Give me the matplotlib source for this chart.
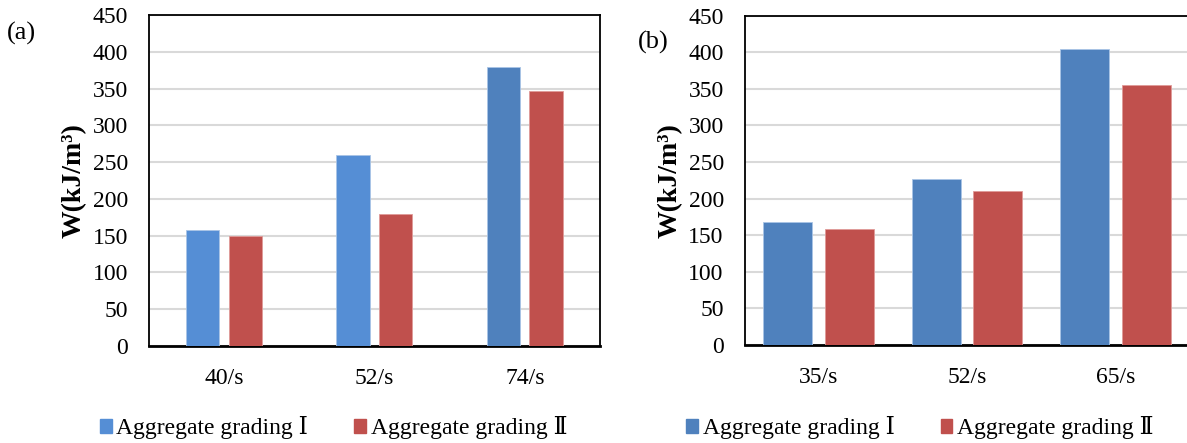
import matplotlib
matplotlib.use("Agg")
import matplotlib.pyplot as plt
from matplotlib.patches import Patch

plt.rcParams['font.family'] = ['Liberation Serif', 'DejaVu Serif', 'Noto Sans CJK SC']

# panel (a)
cats_a = ["40/s", "52/s", "74/s"]
grade1_a = [158, 260, 379]
grade2_a = [149, 180, 347]
# panel (b)
cats_b = ["35/s", "52/s", "65/s"]
grade1_b = [168, 227, 404]
grade2_b = [159, 210, 356]

labels = ["Aggregate grading \u2160", "Aggregate grading \u2161"]
yticks = [0, 50, 100, 150, 200, 250, 300, 350, 400, 450]

LBLUE = "#558ED5"
BLUE = "#4F81BD"
RED = "#C0504D"
FS = 17


def panel(ax, cats, g1, g2, c1, width, off, tag, tagxy, legx):
    x = list(range(len(cats)))
    ax.bar([i - off for i in x], g1, width, color=c1, edgecolor="#a9c4e6",
           linewidth=0.6, zorder=3)
    ax.bar([i + off for i in x], g2, width, color=RED, edgecolor="#e09a98",
           linewidth=0.6, zorder=3)
    ax.set_xlim(-0.5, len(cats) - 0.5)
    ax.set_ylim(0, 450)
    ax.set_yticks(yticks)
    ax.set_xticks(x)
    ax.set_xticklabels(cats)
    ax.tick_params(axis="y", length=0, pad=15, labelsize=FS)
    ax.tick_params(axis="x", length=0, pad=16, labelsize=FS)
    ax.yaxis.grid(True, color="#d9d9d9", lw=1.5, zorder=0)
    for s in ["top", "right", "left"]:
        ax.spines[s].set_linewidth(1.3)
    ax.spines["bottom"].set_linewidth(2.0)
    ax.set_ylabel("W(kJ/m\u00b3)", fontsize=20, fontweight="bold", labelpad=4)
    ax.text(tagxy[0], tagxy[1], tag, transform=ax.figure.transFigure,
            fontsize=19, va="center", ha="left")
    handles = [Patch(color=c1), Patch(color=RED)]
    ax.legend(handles, labels, loc="center left", bbox_to_anchor=(legx, 0.034),
              bbox_transform=ax.figure.transFigure, borderpad=0, borderaxespad=0,
              ncol=2, frameon=False, fontsize=FS, handlelength=0.5,
              handleheight=0.5, handletextpad=0.2, columnspacing=1.95)


fig = plt.figure(figsize=(11.87, 4.43), dpi=100)
ax1 = fig.add_axes([0.1254, 0.2196, 0.3801, 0.7458])
ax2 = fig.add_axes([0.6273, 0.2212, 0.3749, 0.7433])

panel(ax1, cats_a, grade1_a, grade2_a, LBLUE, 0.222, 0.142, "(a)", (0.006, 0.925), 0.0842)
# last bar of panel (a) is a darker blue in the original
ax1.patches[2].set_facecolor(BLUE)
panel(ax2, cats_b, grade1_b, grade2_b, BLUE, 0.33, 0.208, "(b)", (0.537, 0.905), 0.578)

fig.savefig("out.png", dpi=100)
